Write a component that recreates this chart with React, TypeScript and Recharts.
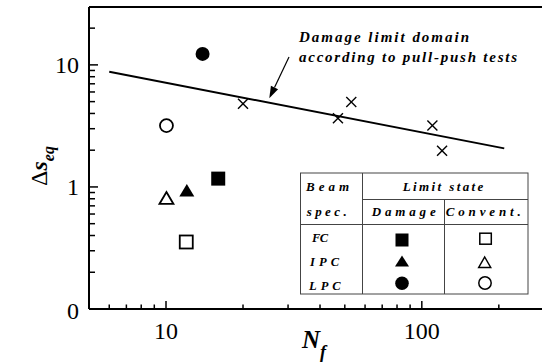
import React from 'react';
import { ScatterChart, Scatter, XAxis, YAxis, ReferenceLine } from 'recharts';

const damageLimitLine = [{ x: 6, y: 8.8 }, { x: 210, y: 2.07 }];
const pullPushTests = [
  { x: 20, y: 4.8 },
  { x: 47, y: 3.66 },
  { x: 53, y: 4.96 },
  { x: 110, y: 3.19 },
  { x: 120, y: 1.98 },
];
const fcDamage = [{ x: 16, y: 1.17 }];
const fcConvent = [{ x: 12, y: 0.354 }];
const ipcDamage = [{ x: 12.06, y: 0.936 }];
const ipcConvent = [{ x: 10.04, y: 0.805 }];
const lpcDamage = [{ x: 13.9, y: 12.3 }];
const lpcConvent = [{ x: 10.04, y: 3.18 }];

const xTicks = [6, 7, 8, 9, 10, 20, 30, 40, 50, 60, 70, 80, 90, 100, 200];
const xMajor = [10, 100];
const yTicks = [0.1, 0.2, 0.3, 0.4, 0.5, 0.6, 0.7, 0.8, 0.9, 1, 2, 3, 4, 5, 6, 7, 8, 9, 10, 20];
const yMajor = [0.1, 1, 10];
const yLabels: Record<string, string> = { '0.1': '0', '1': '1', '10': '10' };

const SERIF = "'Liberation Serif', 'Times New Roman', Times, serif";

const XTick = (p: any) => {
  const v = p.payload.value;
  const major = xMajor.includes(v);
  return (
    <g>
      <line x1={p.x} x2={p.x} y1={p.y} y2={p.y - (major ? 8 : 4.5)} stroke="#000" strokeWidth={1.5} />
      {major && (
        <text x={p.x} y={p.y + 30} textAnchor="middle" style={{ fontFamily: SERIF }} fontSize={24} fill="#000">
          {String(v)}
        </text>
      )}
    </g>
  );
};

const YTick = (p: any) => {
  const v = p.payload.value;
  const major = yMajor.includes(v);
  return (
    <g>
      <line x1={p.x} x2={p.x + (major ? 9 : 6)} y1={p.y} y2={p.y} stroke="#000" strokeWidth={1.5} />
      {major && (
        <text x={p.x - 10} y={p.y + (v === 0.1 ? 10 : 8)} textAnchor="end" style={{ fontFamily: SERIF }} fontSize={24} fill="#000">
          {yLabels[String(v)]}
        </text>
      )}
    </g>
  );
};

const FilledSquare = (p: any) => <rect x={p.cx - 7} y={p.cy - 7} width={14} height={14} fill="#000" />;
const OpenSquare = (p: any) => <rect x={p.cx - 6.5} y={p.cy - 6.5} width={13} height={13} fill="#fff" stroke="#000" strokeWidth={1.8} />;
const FilledTriangle = (p: any) => (
  <polygon points={`${p.cx},${p.cy - 6.5} ${p.cx + 7.5},${p.cy + 6} ${p.cx - 7.5},${p.cy + 6}`} fill="#000" />
);
const OpenTriangle = (p: any) => (
  <polygon points={`${p.cx},${p.cy - 6.5} ${p.cx + 7},${p.cy + 5.5} ${p.cx - 7},${p.cy + 5.5}`} fill="#fff" stroke="#000" strokeWidth={1.8} />
);
const FilledCircle = (p: any) => <circle cx={p.cx} cy={p.cy} r={7} fill="#000" />;
const OpenCircle = (p: any) => <circle cx={p.cx} cy={p.cy} r={6.5} fill="#fff" stroke="#000" strokeWidth={1.8} />;
const Cross = (p: any) => (
  <g stroke="#000" strokeWidth={1.4}>
    <line x1={p.cx - 5} y1={p.cy - 5} x2={p.cx + 5} y2={p.cy + 5} />
    <line x1={p.cx - 5} y1={p.cy + 5} x2={p.cx + 5} y2={p.cy - 5} />
  </g>
);
const NoShape = () => <g />;

const biStyle = { fontFamily: SERIF, fontWeight: 'bold' as const, fontStyle: 'italic' as const };
const bi = { style: biStyle, fill: '#000' };

export default function App() {
  return (
    <div style={{ position: 'absolute', left: 0, top: 0, width: 542, height: 363, background: '#fff' }}>
      <ScatterChart width={542} height={363} margin={{ top: 7, right: 0, bottom: 0, left: 0 }}>
        <XAxis
          type="number"
          dataKey="x"
          scale="log"
          domain={[5, 295]}
          allowDataOverflow
          ticks={xTicks}
          interval={0}
          tick={<XTick />}
          tickSize={0}
          tickMargin={0}
          tickLine={false}
          axisLine={{ stroke: '#000', strokeWidth: 2 }}
          height={54}
        />
        <YAxis
          type="number"
          dataKey="y"
          scale="log"
          domain={[0.1, 29.8]}
          allowDataOverflow
          ticks={yTicks}
          interval={0}
          tick={<YTick />}
          tickSize={0}
          tickMargin={0}
          tickLine={false}
          axisLine={{ stroke: '#000', strokeWidth: 2 }}
          width={89}
        />
        <ReferenceLine y={29.8} stroke="#000" strokeWidth={2} />
        <Scatter data={damageLimitLine} line={{ stroke: '#000', strokeWidth: 2 }} shape={NoShape} isAnimationActive={false} />
        <Scatter data={pullPushTests} shape={Cross} isAnimationActive={false} />
        <Scatter data={fcDamage} shape={FilledSquare} isAnimationActive={false} />
        <Scatter data={fcConvent} shape={OpenSquare} isAnimationActive={false} />
        <Scatter data={ipcDamage} shape={FilledTriangle} isAnimationActive={false} />
        <Scatter data={ipcConvent} shape={OpenTriangle} isAnimationActive={false} />
        <Scatter data={lpcDamage} shape={FilledCircle} isAnimationActive={false} />
        <Scatter data={lpcConvent} shape={OpenCircle} isAnimationActive={false} />
      </ScatterChart>
      <svg width={542} height={363} style={{ position: 'absolute', left: 0, top: 0, pointerEvents: 'none' }}>
        <text x={299} y={42} fontSize={15} textLength={170} lengthAdjust="spacing" {...bi}>Damage limit domain</text>
        <text x={299} y={62} fontSize={15} textLength={218} lengthAdjust="spacing" {...bi}>according to pull-push tests</text>
        <line x1={289} y1={57} x2={274.5} y2={87.5} stroke="#000" strokeWidth={1.2} />
        <polygon points="269.3,98.3 278.1,89.2 270.9,85.8" fill="#000" />
        <text x={302} y={348} fontSize={25} {...bi}>N</text>
        <text x={320} y={358} fontSize={18} {...bi}>f</text>
        <text transform="translate(47,186) rotate(-90)" style={{ fontFamily: SERIF }} fontSize={24} fill="#000">
          <tspan>Δ</tspan>
          <tspan style={biStyle}>s</tspan>
          <tspan style={biStyle} fontSize={16} dy={7}>eq</tspan>
        </text>
        <rect x={300.5} y={173} width={227.5} height={121} fill="#fff" stroke="#444" strokeWidth={1} />
        <line x1={362.5} y1={173} x2={362.5} y2={294} stroke="#444" strokeWidth={1} />
        <line x1={444.5} y1={199} x2={444.5} y2={294} stroke="#444" strokeWidth={1} />
        <line x1={362.5} y1={199.5} x2={528} y2={199.5} stroke="#444" strokeWidth={1} />
        <line x1={300.5} y1={224.5} x2={528} y2={224.5} stroke="#444" strokeWidth={1} />
        <text x={306} y={191} fontSize={13} textLength={43} lengthAdjust="spacing" {...bi}>Beam</text>
        <text x={306.7} y={216} fontSize={13} textLength={40} lengthAdjust="spacing" {...bi}>spec.</text>
        <text x={402.7} y={191} fontSize={13} textLength={80.6} lengthAdjust="spacing" {...bi}>Limit state</text>
        <text x={371.7} y={216} fontSize={13} textLength={64} lengthAdjust="spacing" {...bi}>Damage</text>
        <text x={445.7} y={216} fontSize={13} textLength={75} lengthAdjust="spacing" {...bi}>Convent.</text>
        <text x={312} y={241.7} fontSize={12.5} textLength={16} lengthAdjust="spacing" {...bi}>FC</text>
        <text x={310} y={266} fontSize={12.5} textLength={29} lengthAdjust="spacing" {...bi}>IPC</text>
        <text x={309} y={290} fontSize={12.5} textLength={31.7} lengthAdjust="spacing" {...bi}>LPC</text>
        <rect x={395.5} y={233.5} width={13} height={13} fill="#000" />
        <rect x={479.8} y={233.2} width={11.5} height={11} fill="#fff" stroke="#000" strokeWidth={1.5} />
        <polygon points="402,255.5 409,266.5 395,266.5" fill="#000" />
        <polygon points="484.7,257 490.7,267.5 478.7,267.5" fill="#fff" stroke="#000" strokeWidth={1.5} />
        <circle cx={402} cy={283.3} r={6.8} fill="#000" />
        <circle cx={485} cy={283} r={6.2} fill="#fff" stroke="#000" strokeWidth={1.5} />
      </svg>
    </div>
  );
}
